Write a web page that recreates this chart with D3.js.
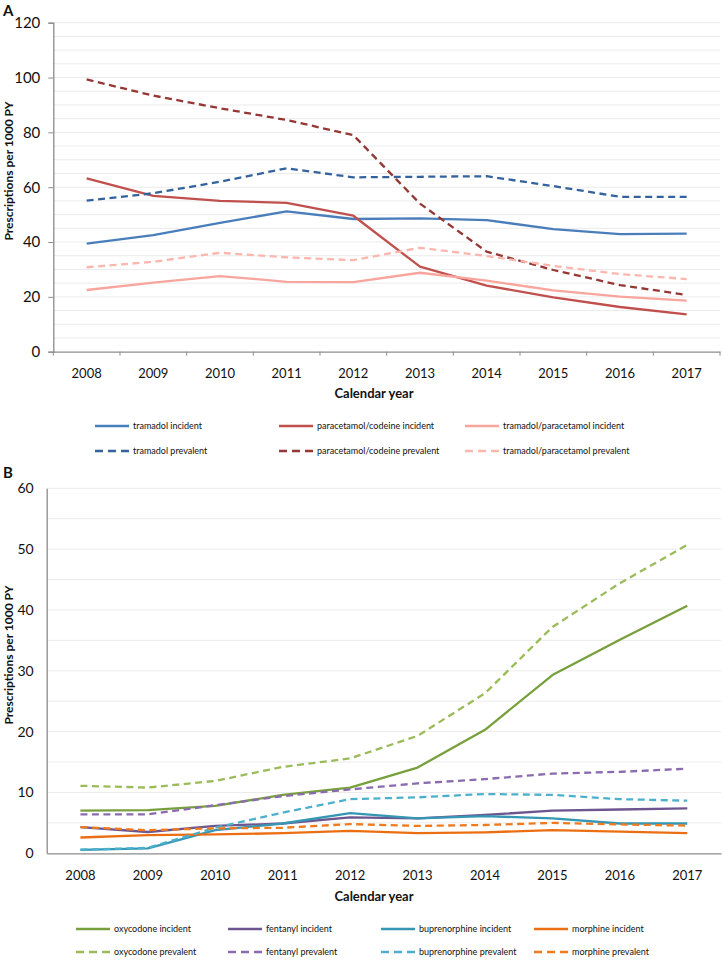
<!DOCTYPE html>
<html>
<head>
<meta charset="utf-8">
<script src="https://cdn.jsdelivr.net/npm/d3@7"></script>
<style>
  html, body { margin: 0; padding: 0; background: #fff; }
  svg { display: block; font-family: Lato, "Open Sans", sans-serif; }
</style>
</head>
<body>
<svg id="chart" width="724" height="960"></svg>
<script>
// ---------- DATA ----------
const years = ["2008","2009","2010","2011","2012","2013","2014","2015","2016","2017"];
const yTicksA = [0, 20, 40, 60, 80, 100, 120];
const yTicksB = [0, 10, 20, 30, 40, 50, 60];

// Panel A
const tramadolIncident      = [39.4, 42.5, 47.0, 51.2, 48.4, 48.6, 48.0, 44.7, 42.9, 43.1];
const paraCodeineIncident   = [63.2, 56.8, 55.0, 54.3, 49.6, 31.0, 24.1, 19.8, 16.3, 13.6];
const tramParaIncident      = [22.5, 25.2, 27.6, 25.5, 25.4, 28.8, 25.9, 22.4, 20.1, 18.6];
const tramadolPrevalent     = [55.1, 57.8, 62.0, 66.9, 63.6, 63.8, 64.0, 60.4, 56.5, 56.5];
const paraCodeinePrevalent  = [99.3, 93.4, 88.8, 84.5, 79.0, 54.0, 36.5, 29.8, 24.3, 20.7];
const tramParaPrevalent     = [30.8, 32.8, 36.1, 34.4, 33.4, 37.9, 34.9, 31.3, 28.3, 26.5];

// Panel B
const oxycodoneIncident     = [7.0, 7.1, 7.8, 9.6, 10.8, 14.1, 20.3, 29.3, 35.1, 40.7];
const fentanylIncident      = [4.3, 3.5, 4.5, 4.9, 5.9, 5.75, 6.3, 7.0, 7.2, 7.4];
const buprenorphineIncident = [0.55, 0.8, 3.8, 4.9, 6.6, 5.75, 6.1, 5.75, 4.9, 4.9];
const morphineIncident      = [2.6, 3.0, 3.1, 3.3, 3.7, 3.3, 3.45, 3.8, 3.55, 3.3];
const oxycodonePrevalent    = [11.1, 10.8, 11.9, 14.2, 15.6, 19.3, 26.3, 37.2, 44.4, 50.7];
const fentanylPrevalent     = [6.4, 6.4, 7.9, 9.4, 10.5, 11.5, 12.2, 13.1, 13.4, 13.9];
const buprenorphinePrevalent= [0.6, 0.9, 4.2, 6.7, 8.9, 9.2, 9.75, 9.6, 8.9, 8.65];
const morphinePrevalent     = [4.3, 3.8, 4.1, 4.2, 4.8, 4.5, 4.65, 5.0, 4.75, 4.55];

const seriesNamesA = ["tramadol incident","paracetamol/codeine incident","tramadol/paracetamol incident",
                      "tramadol prevalent","paracetamol/codeine prevalent","tramadol/paracetamol prevalent"];
const seriesNamesB = ["oxycodone incident","fentanyl incident","buprenorphine incident","morphine incident",
                      "oxycodone prevalent","fentanyl prevalent","buprenorphine prevalent","morphine prevalent"];
const axisTitleX = "Calendar year";
const axisTitleY = "Prescriptions per 1000 PY";

// ---------- STYLE ----------
const colorsA = ["#4a7ebb","#c0504d","#f8a59d","#33629c","#953735","#fbb6ae"];
const colorsB = ["#77a03c","#6d5590","#3597b4","#ec6e12","#9bbb59","#8a6cae","#4bb0cc","#f07a1e"];
const DASH = "7,4.5";

const svg = d3.select("#chart");

function panel(cfg) {
  const g = svg.append("g");
  const x = d3.scaleBand().domain(years).range([cfg.x0, cfg.x1]).padding(0);
  const y = d3.scaleLinear().domain([0, cfg.yMax]).range([cfg.yBottom, cfg.yTop]);

  // gridlines every 5 units
  const gridVals = d3.range(5, cfg.yMax + 0.1, 5);
  g.append("g").selectAll("line").data(gridVals).join("line")
    .attr("x1", cfg.x0).attr("x2", cfg.x1)
    .attr("y1", d => y(d)).attr("y2", d => y(d))
    .attr("stroke", "#ebebeb").attr("stroke-width", 1);

  // y axis
  const ya = g.append("g").attr("transform", `translate(${cfg.x0},0)`)
    .call(d3.axisLeft(y).tickValues(cfg.yTicks).tickSize(cfg.yTickSize).tickPadding(cfg.yTickPad).tickFormat(d3.format("d")));
  ya.select(".domain").attr("stroke", "#8c8c8c").attr("stroke-width", 1.3);
  ya.selectAll(".tick line").attr("stroke", "#8c8c8c");
  ya.selectAll(".tick text").attr("font-family", "Lato, 'Open Sans', sans-serif").attr("font-size", cfg.yFont).attr("fill", "#111");

  // x axis
  const xa = g.append("g").attr("transform", `translate(0,${cfg.yBottom})`)
    .call(d3.axisBottom(x).tickSize(0).tickPadding(cfg.xTickPad));
  xa.select(".domain").attr("stroke", "#8c8c8c").attr("stroke-width", 1.3);
  xa.selectAll(".tick text").attr("font-family", "Lato, 'Open Sans', sans-serif").attr("font-size", 13).attr("fill", "#111");
  if (cfg.xTicks) {
    const bounds = years.map(d => x(d)).concat([cfg.x1]);
    g.append("g").selectAll("line").data(bounds).join("line")
      .attr("x1", d => d).attr("x2", d => d)
      .attr("y1", cfg.yBottom).attr("y2", cfg.yBottom + 4)
      .attr("stroke", "#8c8c8c").attr("stroke-width", 1);
  }

  // titles
  g.append("text").attr("x", cfg.xTitleX).attr("y", cfg.xTitleY)
    .attr("text-anchor", "middle").attr("font-weight", "bold").attr("font-size", 13).attr("fill", "#111")
    .text(axisTitleX);
  g.append("text").attr("transform", `translate(13,${cfg.yTitleCenter}) rotate(-90)`)
    .attr("text-anchor", "middle").attr("font-weight", "bold").attr("font-size", 12).attr("fill", "#111")
    .text(axisTitleY);
  g.append("text").attr("x", 3).attr("y", cfg.letterY)
    .attr("font-weight", "bold").attr("font-size", 15).attr("fill", "#111").text(cfg.letter);

  // lines
  const line = d3.line().x((d, i) => x(years[i]) + x.bandwidth() / 2).y(d => y(d)).curve(d3.curveLinear);
  cfg.series.forEach((s, i) => {
    g.append("path").datum(s.values)
      .attr("d", line).attr("fill", "none")
      .attr("stroke", s.color).attr("stroke-width", 2.3)
      .attr("stroke-dasharray", s.dashed ? DASH : null)
      .attr("stroke-linejoin", "round");
  });

  // legend
  cfg.series.forEach((s, i) => {
    const col = i % cfg.legendCols.length;
    const row = Math.floor(i / cfg.legendCols.length);
    const lx = cfg.legendCols[col];
    const ly = cfg.legendRows[row];
    g.append("line").attr("x1", lx).attr("x2", lx + cfg.legendLen)
      .attr("y1", ly).attr("y2", ly)
      .attr("stroke", s.color).attr("stroke-width", 2.3)
      .attr("stroke-dasharray", s.dashed ? "8,5" : null);
    g.append("text").attr("x", lx + cfg.legendLen + 4).attr("y", ly + 3.2)
      .attr("font-size", 9).attr("fill", "#111").text(s.name);
  });
}

const valsA = [tramadolIncident, paraCodeineIncident, tramParaIncident, tramadolPrevalent, paraCodeinePrevalent, tramParaPrevalent];
const valsB = [oxycodoneIncident, fentanylIncident, buprenorphineIncident, morphineIncident,
               oxycodonePrevalent, fentanylPrevalent, buprenorphinePrevalent, morphinePrevalent];

panel({
  letter: "A", letterY: 16,
  x0: 53.3, x1: 720, yTop: 22.7, yBottom: 351.7, yMax: 120, yTicks: yTicksA,
  yTickSize: 5, yTickPad: 8, yFont: 15, xTickPad: 17, xTicks: true,
  xTitleX: 374, xTitleY: 398, yTitleCenter: 171,
  legendCols: [95, 279, 465], legendRows: [426, 451], legendLen: 34,
  series: valsA.map((v, i) => ({ name: seriesNamesA[i], values: v, color: colorsA[i], dashed: i >= 3 }))
});

panel({
  letter: "B", letterY: 478,
  x0: 46.7, x1: 721, yTop: 488.3, yBottom: 853.3, yMax: 60, yTicks: yTicksB,
  yTickSize: 0, yTickPad: 13, yFont: 14, xTickPad: 17, xTicks: false,
  xTitleX: 374, xTitleY: 901, yTitleCenter: 655,
  legendCols: [76, 228, 381, 534], legendRows: [929, 952], legendLen: 34,
  series: valsB.map((v, i) => ({ name: seriesNamesB[i], values: v, color: colorsB[i], dashed: i >= 4 }))
});
</script>
</body>
</html>
